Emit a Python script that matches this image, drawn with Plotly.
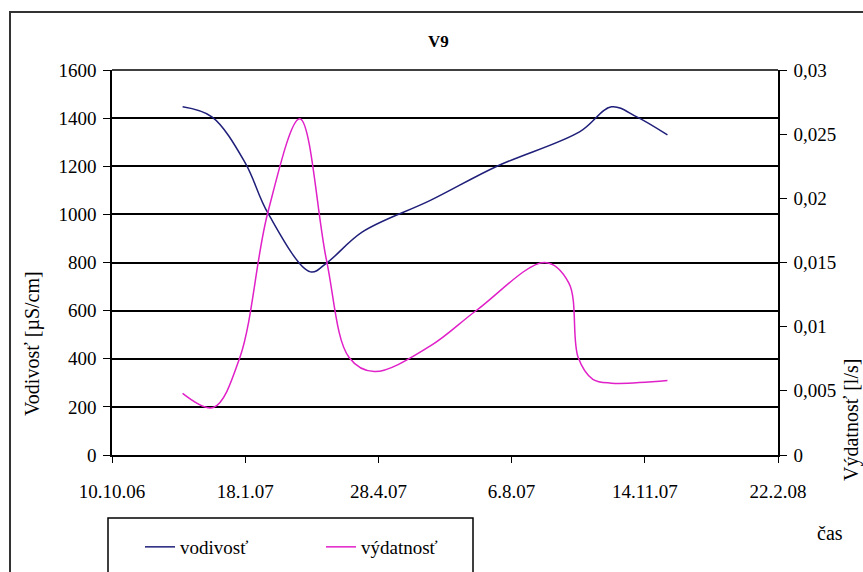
import plotly.graph_objects as go

# Data
vod_dates = ["2006-12-02", "2006-12-24", "2007-01-18", "2007-02-04", "2007-03-08",
             "2007-03-21", "2007-04-16", "2007-06-06", "2007-07-26", "2007-09-26",
             "2007-10-20", "2007-11-08", "2007-12-01"]
vod_values = [1447, 1405, 1214, 1006, 761, 802, 927, 1058, 1200, 1343, 1447, 1405, 1330]

vyd_dates = ["2006-12-02", "2006-12-25", "2007-01-14", "2007-02-04", "2007-02-28",
             "2007-03-20", "2007-04-06", "2007-04-25", "2007-06-06", "2007-07-11",
             "2007-08-31", "2007-09-18", "2007-09-25", "2007-10-06", "2007-10-20",
             "2007-12-01"]
vyd_values = [0.0048, 0.0037, 0.0076, 0.0189, 0.0262, 0.0152, 0.0076, 0.0065, 0.0085,
              0.0113, 0.0150, 0.0134, 0.0076, 0.0059, 0.0056, 0.0058]

title_text = "V9"
y1_title = "Vodivosť [µS/cm]"
y2_title = "Výdatnosť [l/s]"
x_title = "čas"
series_names = ["vodivosť", "výdatnosť"]

FONT = "Liberation Serif, Times New Roman, serif"
W, H = 863, 572
L, R, T, B = 112, 778, 70, 455

fig = go.Figure()
fig.add_trace(go.Scatter(x=vod_dates, y=vod_values, name=series_names[0], mode="lines",
                         line=dict(color="#1f1f7a", width=1.5, shape="spline", smoothing=1.0)))
fig.add_trace(go.Scatter(x=vyd_dates, y=vyd_values, name=series_names[1], mode="lines", yaxis="y2",
                         line=dict(color="#e020c8", width=1.5, shape="spline", smoothing=1.0)))

def px_x(x):
    return (x - L) / (R - L)

def px_y(y):
    return (B - y) / (B - T)

fig.update_layout(
    width=W, height=H,
    margin=dict(l=L, r=W - R, t=T, b=H - B, pad=0, autoexpand=False),
    paper_bgcolor="white", plot_bgcolor="white",
    separators=", ",
    font=dict(family=FONT, size=19, color="black"),
    showlegend=True,
    legend=dict(orientation="h", x=px_x(140), y=px_y(547), xanchor="left", yanchor="middle",
                font=dict(family=FONT, size=19), bgcolor="rgba(0,0,0,0)",
                entrywidth=136, itemwidth=30),
    xaxis=dict(type="date", range=["2006-10-10", "2008-02-22"], tick0="2006-10-10",
               dtick=100 * 86400000, tickformat="%-d.%-m.%y", showgrid=False,
               showline=True, linecolor="black", linewidth=1.5, ticks="outside",
               ticklen=6, tickcolor="black", tickfont=dict(family=FONT, size=19),
               ticklabelstandoff=12, automargin=False, zeroline=False),
    yaxis=dict(range=[0, 1600], dtick=200, showgrid=True, gridcolor="black", gridwidth=1.5,
               showline=True, linecolor="black", linewidth=1.5, ticks="outside",
               ticklen=7, tickcolor="black", tickfont=dict(family=FONT, size=19),
               ticklabelstandoff=3, automargin=False, zeroline=False),
    yaxis2=dict(range=[0, 0.03], dtick=0.005, overlaying="y", side="right", showgrid=False,
                showline=True, linecolor="black", linewidth=1.5, ticks="outside",
                ticklen=7, tickcolor="black", tickfont=dict(family=FONT, size=19),
                ticklabelstandoff=3, automargin=False, zeroline=False),
)

annotations = [
    dict(text="<b>" + title_text + "</b>", x=px_x(438), y=px_y(42), xref="paper", yref="paper",
         showarrow=False, font=dict(family=FONT, size=17), xanchor="center", yanchor="middle"),
    dict(text=y1_title, x=px_x(32), y=px_y(344), xref="paper", yref="paper", textangle=-90,
         showarrow=False, font=dict(family=FONT, size=20), xanchor="center", yanchor="middle"),
    dict(text=y2_title, x=px_x(851), y=px_y(420), xref="paper", yref="paper", textangle=-90,
         showarrow=False, font=dict(family=FONT, size=20), xanchor="center", yanchor="middle"),
    dict(text=x_title, x=px_x(830), y=px_y(533), xref="paper", yref="paper",
         showarrow=False, font=dict(family=FONT, size=20), xanchor="center", yanchor="middle"),
]
fig.update_layout(annotations=annotations)

shapes = [
    # outer chart frame (extends past the canvas on right and bottom)
    dict(type="rect", xref="paper", yref="paper", x0=px_x(10), x1=px_x(W + 20),
         y0=px_y(H + 20), y1=px_y(12), line=dict(color="#333333", width=2), layer="below"),
    # legend box
    dict(type="rect", xref="paper", yref="paper", x0=px_x(108), x1=px_x(473),
         y0=px_y(H + 20), y1=px_y(518), line=dict(color="black", width=1.5), layer="below"),
    # top border line at 1600
    dict(type="line", xref="paper", yref="paper", x0=0, x1=1, y0=1, y1=1,
         line=dict(color="black", width=1.5)),
]
fig.update_layout(shapes=shapes)

fig.write_html("out.html")
